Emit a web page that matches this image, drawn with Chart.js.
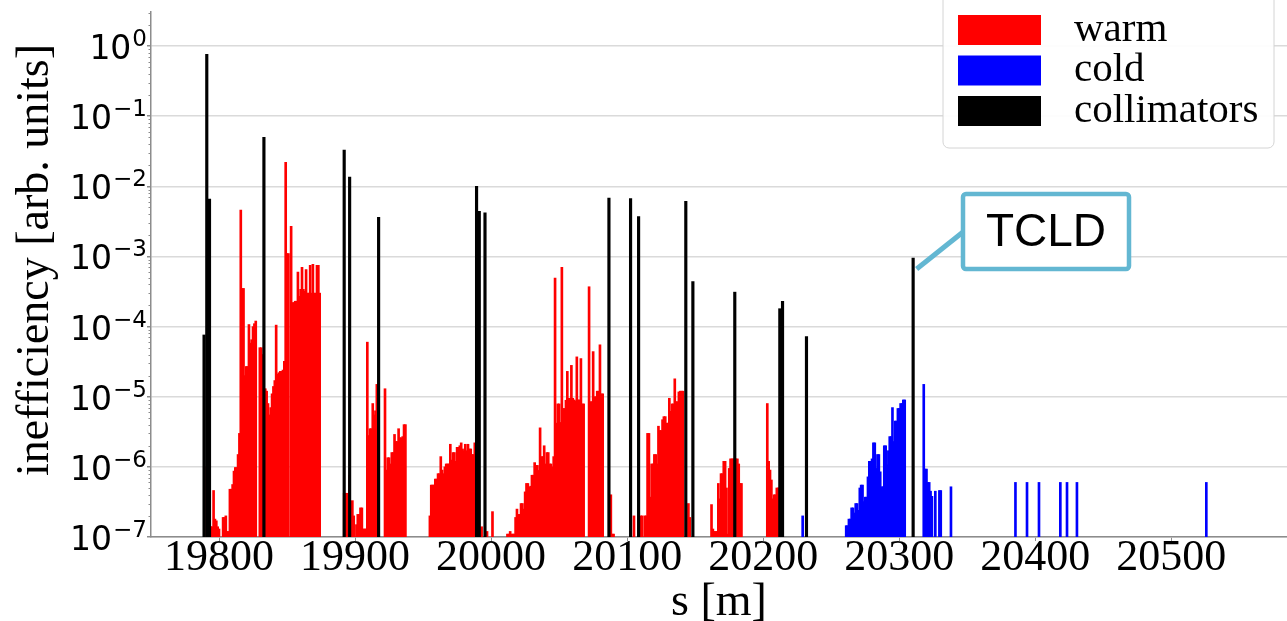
<!DOCTYPE html>
<html>
<head>
<meta charset="utf-8">
<title>inefficiency vs s</title>
<script src="https://cdn.jsdelivr.net/npm/chart.js@4.4.1/dist/chart.umd.min.js"></script>
<style>
  html, body { margin: 0; padding: 0; background: #fff; }
</style>
</head>
<body>
<canvas id="lossMap" width="1287" height="621"></canvas>
<script>
// warm elements: position s [m] and inefficiency
const warmS = [
  19791, 19792, 19793, 19794, 19795, 19796, 19797, 19798, 19799, 19800,
  19803, 19804, 19805, 19806, 19807, 19808, 19809, 19810, 19811, 19812, 19813, 19814, 19815,
  19816, 19817, 19818, 19819, 19820, 19821, 19822, 19823, 19824, 19825, 19826, 19827,
  19830, 19831, 19832, 19833, 19834, 19835, 19836, 19837, 19838, 19839, 19840,
  19841, 19842, 19843, 19844, 19845, 19846, 19847, 19848, 19849, 19850, 19851,
  19853, 19854, 19855, 19856, 19857, 19858, 19859, 19860, 19861, 19862, 19863,
  19864, 19865, 19866, 19867, 19868, 19869, 19870, 19871, 19872, 19873, 19874,
  19892, 19893, 19894, 19896, 19898, 19899, 19901, 19902, 19903, 19904, 19905, 19906,
  19907, 19908, 19909, 19910, 19911, 19912, 19913, 19914, 19915, 19916, 19917,
  19922, 19923, 19924, 19925, 19926, 19927, 19928, 19929, 19930, 19931, 19932, 19933,
  19934, 19935, 19936, 19937,
  19955, 19956, 19957, 19958, 19959, 19960, 19961, 19962, 19963, 19964, 19965, 19966,
  19967, 19968, 19969, 19970, 19971, 19972, 19973, 19974, 19975, 19976, 19977, 19978,
  19979, 19980, 19981, 19982, 19983, 19984, 19985, 19986, 19987, 19988,
  19990, 19993, 19997, 20001,
  20012, 20013, 20014, 20015, 20016, 20017, 20018, 20019, 20020, 20021, 20022, 20023,
  20024, 20025, 20026, 20027, 20028, 20029, 20030, 20031, 20032, 20033, 20034, 20035,
  20036, 20037, 20038, 20039, 20040, 20041, 20042, 20043, 20044, 20045, 20046, 20047,
  20048, 20049, 20050, 20051, 20052, 20053, 20054, 20055, 20056, 20057, 20058, 20059,
  20060, 20061, 20062, 20063, 20064, 20065, 20066, 20067, 20068,
  20072, 20073, 20074, 20075, 20076, 20077, 20078, 20079, 20080, 20081, 20082,
  20088, 20089, 20090,
  20105, 20110, 20111, 20113, 20114,
  20115, 20116, 20117, 20118, 20119, 20120, 20121, 20122, 20123, 20124, 20125, 20126,
  20127, 20128, 20129, 20130, 20131, 20132, 20133, 20134, 20135, 20136, 20137, 20138,
  20139, 20140, 20141, 20145, 20146,
  20162, 20163, 20164, 20165, 20166, 20167, 20168, 20169, 20170, 20171, 20172, 20173,
  20174, 20175, 20176, 20177, 20178, 20179, 20180, 20181, 20182, 20183, 20184,
  20203, 20204, 20205, 20206, 20207, 20208, 20209, 20210, 20211, 20212
];
const warmV = [
  1e-6, 3e-7, 1.4e-7, 1.4e-7, 1.4e-7, 4.6e-7, 1.8e-7, 1.7e-7, 1.4e-7, 1.3e-7,
  1.9e-7, 1.9e-7, 2e-7, 1.2e-7, 1.2e-7, 4.8e-7, 4.8e-7, 5.6e-7, 8.7e-7, 9.8e-7, 9.8e-7, 1.5e-6, 3e-6,
  4.6e-3, 3.5e-4, 3.5e-4, 2e-5, 2.7e-5, 2.7e-5, 1.07e-4, 5.8e-5, 6.5e-5, 1e-4, 1.1e-4, 1.2e-4,
  5e-5, 5e-5, 4e-5, 1.3e-5, 1.3e-5, 1.2e-5, 8e-6, 5.5e-6, 7e-6, 1.1e-5, 1.4e-5,
  1.7e-5, 1.05e-4, 2.1e-5, 2.2e-5, 2.3e-5, 2.3e-5, 2.4e-5, 3.2e-5, 2.2e-2, 1.1e-3, 1.1e-3,
  2.7e-3, 2.2e-4, 2.2e-4, 2.3e-4, 2.3e-4, 6e-4, 2.7e-4, 3.4e-4, 7e-4, 3.4e-4, 3.2e-4,
  6.5e-4, 3e-4, 3e-4, 7.5e-4, 3e-4, 7.7e-4, 3e-4, 3e-4, 7.5e-4, 7.5e-4, 3e-4,
  4.2e-7, 4.2e-7, 4.2e-7, 7.6e-7, 3.3e-7, 2e-7, 1.5e-7, 2.1e-7, 2.1e-7, 2.6e-7, 2.6e-7, 1.3e-7,
  1.3e-7, 1.3e-7, 6e-5, 2.8e-6, 3.5e-6, 3.5e-6, 8e-6, 5.5e-6, 6.3e-6, 1.5e-5, 1.5e-5,
  1.3e-5, 9e-7, 1.35e-6, 1.35e-6, 1.1e-6, 1.6e-6, 1.6e-6, 2.9e-6, 2.3e-6, 2.3e-6, 3.5e-6, 2.6e-6,
  2.6e-6, 2.7e-6, 4e-6, 4e-6,
  2e-7, 5.5e-7, 5.5e-7, 5.5e-7, 6.7e-7, 6.7e-7, 8e-7, 8e-7, 1.4e-6, 9e-7, 8e-7, 1e-6,
  1.1e-6, 1.1e-6, 1.1e-6, 2.1e-6, 1.25e-6, 1.6e-6, 1.6e-6, 1.2e-6, 1.9e-6, 1.9e-6, 2e-6, 2.2e-6,
  1.8e-6, 1.7e-6, 2.1e-6, 1.7e-6, 2.1e-6, 1.8e-6, 1.8e-6, 1.5e-6, 1.5e-6, 2.2e-6,
  5e-7, 1.4e-7, 1.2e-7, 2.3e-7,
  1.1e-7, 1.1e-7, 1.2e-7, 1.1e-7, 1.1e-7, 1.1e-7, 1.9e-7, 2.5e-7, 2.1e-7, 2.1e-7, 3e-7, 3e-7,
  2.5e-7, 4.4e-7, 5.8e-7, 5.8e-7, 5.1e-7, 5.3e-7, 7.6e-7, 7.6e-7, 1.15e-6, 1.05e-6, 1.05e-6, 8.9e-7,
  3.6e-6, 1.4e-6, 1.4e-6, 2e-6, 1.1e-6, 1.6e-6, 1.6e-6, 1.1e-6, 1.1e-6, 1e-6, 1.4e-6, 4.9e-4,
  4.2e-6, 7.9e-6, 7.9e-6, 4.3e-6, 7e-4, 6.8e-6, 6.8e-6, 8.9e-6, 2.3e-5, 9.5e-6, 9.5e-6, 2.8e-5,
  9.5e-6, 9e-6, 8.7e-6, 3.7e-5, 9e-6, 9e-6, 3.5e-5, 7.9e-6, 7.9e-6,
  3.7e-4, 8.5e-6, 8.5e-6, 4.4e-5, 1e-5, 1e-5, 1.2e-5, 1.2e-5, 5.5e-5, 1.1e-5, 1.1e-5,
  4e-7, 1.1e-7, 1.1e-7,
  2e-7, 2e-7, 2e-7, 2e-7, 2e-7,
  3e-6, 3e-6, 3.7e-7, 1.1e-6, 1.1e-6, 1.5e-6, 1.5e-6, 1.1e-6, 3.8e-6, 3.3e-6, 3.3e-6, 4.7e-6,
  5.2e-6, 5.2e-6, 4.2e-6, 4.2e-6, 9.5e-6, 6.2e-6, 7.9e-6, 7.9e-6, 1.8e-5, 8.5e-6, 8.5e-6, 1.17e-5,
  1.2e-5, 1.2e-5, 1.2e-5, 3e-7, 1.9e-7,
  2.9e-7, 1.3e-7, 1.2e-7, 1.2e-7, 1.2e-7, 5.8e-7, 3.5e-7, 8e-7, 8e-7, 1.2e-6, 1.2e-6, 5e-7,
  1.1e-7, 9.5e-7, 1.3e-6, 1.3e-6, 1.3e-6, 1.3e-6, 1.3e-6, 1.3e-6, 1.1e-6, 5.8e-7, 5.8e-7,
  8e-6, 1.2e-6, 9e-7, 6.5e-7, 3.5e-7, 4e-7, 4e-7, 5e-7, 5e-7, 5e-7
];

// cold (superconducting) elements
const coldS = [
  20229,
  20261, 20262, 20263, 20264, 20265, 20266, 20267, 20268, 20269, 20270,
  20271, 20272, 20273, 20274, 20275, 20276, 20277, 20278, 20279, 20280,
  20281, 20282, 20283, 20284, 20285, 20286, 20287, 20288, 20289, 20290,
  20291, 20292, 20293, 20294, 20295, 20296, 20297, 20298, 20299, 20300,
  20301, 20302, 20303, 20304,
  20318, 20319, 20320, 20321, 20322, 20323, 20324, 20326.5, 20329.5, 20330.5, 20338,
  20385.4, 20393.9, 20402.7, 20418.4, 20423.3, 20430.6, 20525.7
];
const coldV = [
  2e-7,
  1.45e-7, 1.45e-7, 1.8e-7, 1.8e-7, 2.6e-7, 2.6e-7, 2.2e-7, 3e-7, 3e-7, 2.4e-7,
  5e-7, 5.5e-7, 5.5e-7, 3.2e-7, 3.7e-7, 3.7e-7, 7.2e-7, 1.2e-6, 1.2e-6, 1.3e-6,
  2.2e-6, 2.2e-6, 9.5e-7, 1.5e-6, 1.5e-6, 8.5e-7, 5.2e-7, 5.2e-7, 2e-6, 2e-6,
  1.07e-6, 1.7e-6, 2.7e-6, 2.7e-6, 7e-6, 2.3e-6, 4.5e-6, 4.5e-6, 6.8e-6, 6.8e-6,
  8e-6, 8e-6, 9e-6, 9e-6,
  1.5e-5, 9.3e-7, 9.3e-7, 6e-7, 6e-7, 4.5e-7, 3.8e-7, 4.5e-7, 4.6e-7, 4.6e-7, 5.2e-7,
  6e-7, 6e-7, 6e-7, 6e-7, 6e-7, 6e-7, 6e-7
];

// collimators; the last one is the TCLD
const collS = [
  19789, 19791, 19793, 19833, 19892, 19896, 19917.3, 19989.3, 19991.3, 19995.5,
  20086.6, 20102.5, 20108.4, 20143.1, 20148.3, 20179.1, 20212.2, 20214.2, 20231.8, 20310.2
];
const collV = [
  7.6e-5, 0.76, 6.6e-3, 0.05, 0.033, 0.0135, 3.6e-3, 1e-2, 4.4e-3, 4.2e-3,
  6.8e-3, 6.7e-3, 3.7e-3, 6.1e-3, 4.4e-4, 3.1e-4, 1.8e-4, 2.3e-4, 7.2e-5, 9.5e-4
];

const xTicks = [19800, 19900, 20000, 20100, 20200, 20300, 20400, 20500];
const yTicks = [1e-7, 1e-6, 1e-5, 1e-4, 1e-3, 1e-2, 1e-1, 1];
const yTickExp = ['\u22127', '\u22126', '\u22125', '\u22124', '\u22123', '\u22122', '\u22121', '0'];

const pairs = (xs, ys) => xs.map((s, i) => ({ x: s, y: ys[i] }));

const AXIS_GREY = '#8c8c8c';
const NOTE_BLUE = '#63b7d2';

// 10^n labels, minor ticks and the rotated title of the log axis
const logAxisDecor = {
  id: 'logAxisDecor',
  afterDraw(chart) {
    const y = chart.scales.y;
    const c = chart.ctx;
    c.save();
    c.strokeStyle = AXIS_GREY;
    c.lineWidth = 1;
    for (let e = -7; e <= 0; e++) {
      for (let m = 2; m <= 9; m++) {
        const v = m * Math.pow(10, e);
        if (v > y.max) break;
        const py = Math.round(y.getPixelForValue(v)) + 0.5;
        c.beginPath();
        c.moveTo(y.right, py);
        c.lineTo(y.right - 2.5, py);
        c.stroke();
      }
    }
    const xr = y.right - 4;
    c.fillStyle = '#000';
    c.textBaseline = 'alphabetic';
    yTicks.forEach((v, i) => {
      const py = y.getPixelForValue(v);
      c.font = '23px "DejaVu Sans"';
      const we = c.measureText(yTickExp[i]).width;
      c.textAlign = 'left';
      c.fillText(yTickExp[i], xr - we, py);
      c.font = '33px "DejaVu Sans"';
      c.textAlign = 'right';
      c.fillText('10', xr - we - 1, py + 13);
    });
    c.translate(36, 260);
    c.rotate(-Math.PI / 2);
    c.font = '46px "Liberation Serif"';
    c.textAlign = 'center';
    c.textBaseline = 'middle';
    c.fillText('inefficiency [arb. units]', 0, 0);
    c.restore();
  }
};

// boxed legend in the upper right corner
const boxLegend = {
  id: 'boxLegend',
  afterDraw(chart) {
    const c = chart.ctx;
    const right = chart.chartArea.right - 13;
    const left = right - 331;
    c.save();
    c.beginPath();
    c.roundRect(left, -8, right - left, 156, 6);
    c.fillStyle = 'rgba(255,255,255,0.95)';
    c.fill();
    c.strokeStyle = '#d4d4d4';
    c.lineWidth = 1;
    c.stroke();
    c.font = '41px "Liberation Serif"';
    c.textBaseline = 'middle';
    chart.data.datasets.forEach((ds, i) => {
      const top = 15 + i * 40.5;
      c.fillStyle = ds.backgroundColor;
      c.fillRect(left + 15, top, 83, 30);
      c.fillStyle = '#000';
      c.fillText(ds.label, left + 131, top + 15);
    });
    c.restore();
  }
};

// TCLD callout with a leader line to the collimator bar
const tcldNote = {
  id: 'tcldNote',
  afterDraw(chart) {
    const c = chart.ctx;
    const i = collS.length - 1;
    const ax = chart.scales.x.getPixelForValue(collS[i]) + 3.5;
    const ay = chart.scales.y.getPixelForValue(collV[i]) + 11;
    const bx = 963, by = 194, bw = 166, bh = 75;
    c.save();
    c.strokeStyle = NOTE_BLUE;
    c.lineWidth = 5;
    c.beginPath();
    c.moveTo(ax, ay);
    c.lineTo(bx, by + 38);
    c.stroke();
    c.beginPath();
    c.roundRect(bx, by, bw, bh, 3);
    c.fillStyle = '#fff';
    c.fill();
    c.lineWidth = 4.5;
    c.stroke();
    c.fillStyle = '#000';
    c.font = '46px "Liberation Sans"';
    c.textAlign = 'center';
    c.textBaseline = 'middle';
    c.fillText('TCLD', bx + bw / 2, by + bh / 2 + 2);
    c.restore();
  }
};

const ctx = document.getElementById('lossMap').getContext('2d');
new Chart(ctx, {
  type: 'bar',
  data: {
    datasets: [
      { label: 'warm', data: pairs(warmS, warmV), backgroundColor: '#ff0000', barThickness: 2, grouped: false, order: 2 },
      { label: 'cold', data: pairs(coldS, coldV), backgroundColor: '#0000ff', barThickness: 2, grouped: false, order: 1 },
      { label: 'collimators', data: pairs(collS, collV), backgroundColor: '#000000', barThickness: 2.5, grouped: false, order: 0 }
    ]
  },
  options: {
    responsive: false,
    animation: false,
    layout: { padding: { top: 12, right: 0, bottom: 0, left: 0 } },
    plugins: {
      legend: { display: false },
      tooltip: { enabled: false }
    },
    scales: {
      x: {
        type: 'linear',
        min: 19750,
        max: 20585,
        offset: false,
        grid: { drawOnChartArea: false, offset: false, tickLength: 4, tickColor: AXIS_GREY, tickWidth: 1 },
        border: { color: AXIS_GREY, width: 1.5 },
        ticks: {
          autoSkip: false,
          maxRotation: 0,
          padding: -5,
          color: '#000',
          font: { family: '"Liberation Serif"', size: 44, lineHeight: 1 },
          callback: v => String(v)
        },
        afterBuildTicks: scale => { scale.ticks = xTicks.map(v => ({ value: v })); },
        afterFit: scale => { scale.height = 84; },
        title: {
          display: true,
          text: 's [m]',
          color: '#000',
          font: { family: '"Liberation Serif"', size: 46, lineHeight: 1 },
          padding: { top: 0, bottom: -5 }
        }
      },
      y: {
        type: 'logarithmic',
        min: 1e-7,
        max: 3.06,
        grid: { color: '#dadada', lineWidth: 1.5, tickLength: 4, tickColor: AXIS_GREY, tickWidth: 1.5 },
        border: { color: AXIS_GREY, width: 1.5 },
        ticks: { display: false },
        afterBuildTicks: scale => { scale.ticks = yTicks.map(v => ({ value: v })); },
        afterFit: scale => { scale.width = 151; }
      }
    }
  },
  plugins: [logAxisDecor, boxLegend, tcldNote]
});
</script>
</body>
</html>
